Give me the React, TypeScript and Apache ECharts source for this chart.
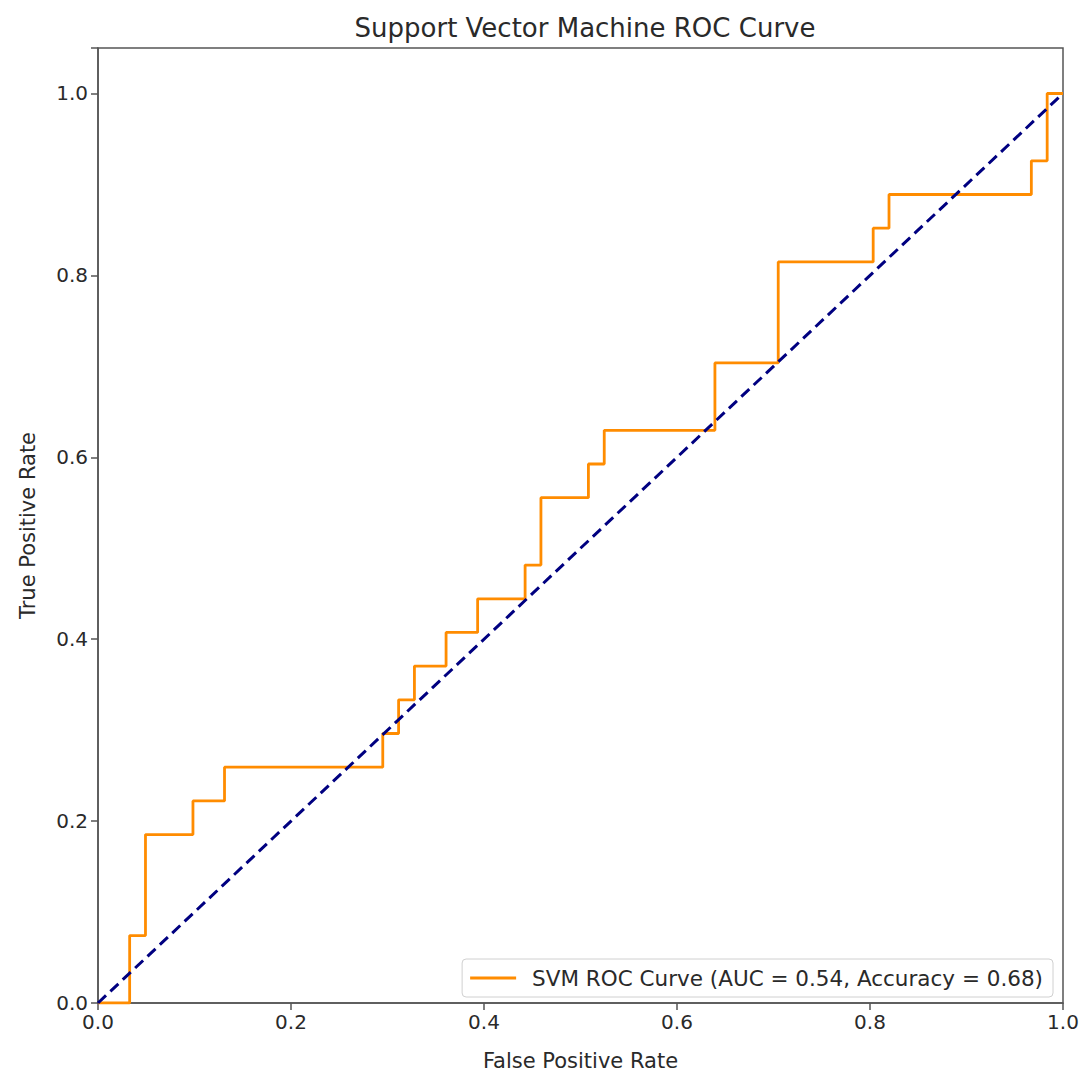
import React, { useEffect, useRef } from "react";
import * as echarts from "echarts";

const fpr = [0, 0.0328, 0.0328, 0.0492, 0.0492, 0.0984, 0.0984, 0.1311, 0.1311, 0.2951, 0.2951, 0.3115, 0.3115, 0.3279, 0.3279, 0.3607, 0.3607, 0.3934, 0.3934, 0.4426, 0.4426, 0.459, 0.459, 0.5082, 0.5082, 0.5246, 0.5246, 0.6393, 0.6393, 0.7049, 0.7049, 0.8033, 0.8033, 0.8197, 0.8197, 0.9672, 0.9672, 0.9836, 0.9836, 1.0];
const tpr = [0, 0, 0.0741, 0.0741, 0.1852, 0.1852, 0.2222, 0.2222, 0.2593, 0.2593, 0.2963, 0.2963, 0.3333, 0.3333, 0.3704, 0.3704, 0.4074, 0.4074, 0.4444, 0.4444, 0.4815, 0.4815, 0.5556, 0.5556, 0.5926, 0.5926, 0.6296, 0.6296, 0.7037, 0.7037, 0.8148, 0.8148, 0.8519, 0.8519, 0.8889, 0.8889, 0.9259, 0.9259, 1.0, 1.0];
const diagX = [0, 1];
const diagY = [0, 1];
const seriesName = "SVM ROC Curve (AUC = 0.54, Accuracy = 0.68)";
const titleText = "Support Vector Machine ROC Curve";
const xName = "False Positive Rate";
const yName = "True Positive Rate";

const FONT = "DejaVu Sans";
const TXT = "#2a2a2a";

export default function App() {
  const ref = useRef<HTMLDivElement>(null);
  useEffect(() => {
    document.body.style.margin = "0";
    const chart = echarts.init(ref.current!, null, { renderer: "svg" });
    const fmt = (v: number) =>
      Math.abs(v * 5 - Math.round(v * 5)) < 1e-6 ? v.toFixed(1) : "";
    chart.setOption({
      animation: false,
      backgroundColor: "#fff",
      textStyle: { fontFamily: FONT },
      title: {
        text: titleText,
        left: 580,
        textAlign: "center",
        top: 10,
        textStyle: { fontFamily: FONT, fontSize: 26, fontWeight: "normal", color: TXT },
      },
      grid: {
        left: 98,
        right: 21,
        top: 48,
        bottom: 69,
        show: true,
        borderColor: "#555",
        borderWidth: 1.5,
      },
      legend: {
        data: [seriesName],
        right: 31,
        bottom: 79,
        orient: "vertical",
        borderColor: "#d0d0d0",
        borderWidth: 1,
        borderRadius: 4,
        padding: [8, 10, 8, 8],
        itemWidth: 46,
        itemHeight: 3,
        itemGap: 6,
        icon: "rect",
        textStyle: { fontFamily: FONT, fontSize: 21.5, color: TXT, padding: [0, 0, 0, 11] },
      },
      xAxis: {
        type: "value",
        min: 0,
        max: 1,
        interval: 0.2,
        name: xName,
        nameLocation: "middle",
        nameGap: 47,
        nameTextStyle: { fontFamily: FONT, fontSize: 21, color: TXT },
        axisLine: { show: true, lineStyle: { color: "#555", width: 1.5 } },
        axisTick: { show: true, length: 7, lineStyle: { color: "#555", width: 1.5 } },
        axisLabel: { formatter: fmt, fontFamily: FONT, fontSize: 20, color: TXT, margin: 9 },
        splitLine: { show: false },
      },
      yAxis: {
        type: "value",
        min: 0,
        max: 1.05,
        interval: 0.2,
        name: yName,
        nameLocation: "middle",
        nameGap: 60,
        nameTextStyle: { fontFamily: FONT, fontSize: 21, color: TXT },
        axisLine: { show: true, lineStyle: { color: "#555", width: 1.5 } },
        axisTick: { show: true, length: 7, lineStyle: { color: "#555", width: 1.5 } },
        axisLabel: { formatter: fmt, fontFamily: FONT, fontSize: 20, color: TXT, margin: 10 },
        splitLine: { show: false },
      },
      series: [
        {
          name: seriesName,
          type: "line",
          data: fpr.map((x, i) => [x, tpr[i]]),
          showSymbol: false,
          symbol: "none",
          lineStyle: { color: "#ff8c00", width: 2.8 },
          itemStyle: { color: "#ff8c00" },
          z: 2,
        },
        {
          name: "diag",
          type: "line",
          data: diagX.map((x, i) => [x, diagY[i]]),
          showSymbol: false,
          symbol: "none",
          lineStyle: { color: "#000080", width: 3, type: [11, 6] },
          itemStyle: { color: "#000080" },
          z: 3,
        },
      ],
    });
    return () => chart.dispose();
  }, []);
  return <div ref={ref} style={{ width: 1084, height: 1076 }} />;
}
